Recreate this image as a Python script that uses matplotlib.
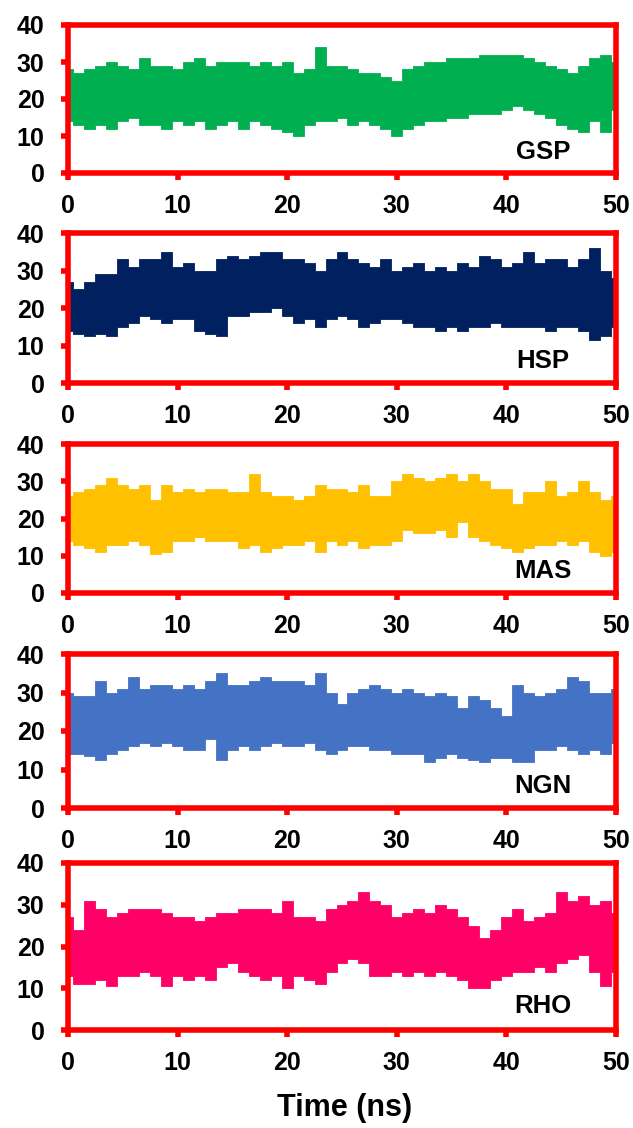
import numpy as np
import matplotlib
matplotlib.use("Agg")
import matplotlib.pyplot as plt

plt.rcParams["font.family"] = ["Liberation Sans", "DejaVu Sans"]
plt.rcParams["font.weight"] = "bold"

# time axis (ns), one reading per ns
time_ns = np.arange(0, 51)

# upper / lower edges of each trace
gsp_hi = [28, 27, 28, 29, 30, 29, 28, 31, 29, 29, 28, 30, 31, 29, 30, 30, 30, 29, 30, 29,
          30, 27, 28, 34, 29, 29, 28, 27, 27, 26, 25, 28, 29, 30, 30, 31, 31, 31, 32, 32,
          32, 32, 31, 30, 29, 28, 27, 29, 31, 32, 30]
gsp_lo = [14, 13, 12, 13, 12, 14, 15, 13, 13, 12, 14, 13, 14, 12, 13, 14, 12, 14, 13, 12,
          11, 10, 13, 14, 14, 15, 13, 14, 13, 12, 10, 12, 13, 14, 14, 15, 15, 16, 16, 16,
          17, 18, 17, 16, 15, 13, 12, 11, 14, 11, 17]

hsp_hi = [27, 25, 27, 29, 29, 33, 31, 33, 33, 35, 31, 32, 30, 30, 33, 34, 33, 34, 35, 35,
          33, 33, 32, 30, 33, 35, 33, 32, 31, 33, 30, 31, 32, 30, 31, 30, 32, 31, 34, 33,
          31, 32, 35, 32, 33, 33, 31, 33, 36, 30, 28]
hsp_lo = [14, 13, 12.5, 13, 12.5, 15, 16, 18, 17, 16, 17, 17, 14, 13, 12.5, 18, 18, 19, 19, 20,
          18, 16, 17, 15, 17, 18, 17, 15, 16, 17, 17, 16, 15, 15, 14, 15, 14, 15, 15, 16,
          15, 15, 15, 15, 14, 15, 15, 14, 11.5, 12.5, 15]

mas_hi = [26, 27, 28, 29, 31, 29, 28, 29, 25, 29, 27, 28, 27, 28, 28, 27, 27, 32, 27, 26,
          26, 25, 26, 29, 28, 28, 27, 29, 26, 26, 30, 32, 31, 30, 31, 32, 30, 32, 30, 28,
          28, 24, 27, 27, 30, 26, 27, 30, 27, 25, 26]
mas_lo = [14, 13, 12, 11, 13, 13, 14, 13, 10.5, 11, 14, 14, 15, 14, 14, 14, 12, 13, 11, 12,
          13, 13, 14, 11, 14, 13, 14, 12, 13, 13, 14, 17, 16, 16, 17, 15, 19, 15, 14, 13,
          12, 11, 12, 13, 13, 14, 13, 14, 11, 10, 11]

ngn_hi = [30, 29, 29, 33, 30, 31, 34, 31, 32, 32, 31, 32, 31, 33, 35, 32, 32, 33, 34, 33,
          33, 33, 32, 35, 30, 27, 30, 31, 32, 31, 30, 31, 30, 29, 30, 29, 26, 29, 28, 26,
          24, 32, 30, 29, 30, 31, 34, 33, 30, 30, 31]
ngn_lo = [14, 14, 13.5, 12.5, 14, 15, 16, 17, 16, 17, 16, 15, 15, 18, 12.5, 15, 16, 15, 16, 17,
          16, 16, 17, 15, 14, 15, 16, 16, 15, 15, 14, 14, 14, 12, 13, 14, 13, 12.5, 12, 13,
          13, 12, 12, 15, 15, 16, 15, 14, 15, 14, 17]

rho_hi = [27, 24, 31, 29, 27, 28, 29, 29, 29, 28, 27, 27, 26, 27, 28, 28, 29, 29, 29, 28,
          31, 27, 27, 26, 29, 30, 31, 33, 31, 30, 27, 28, 29, 28, 30, 29, 27, 25, 22, 24,
          27, 29, 26, 27, 28, 33, 31, 32, 30, 31, 28]
rho_lo = [13, 11, 11, 12, 10.5, 13, 13, 14, 13, 10.5, 13, 12, 13, 12, 15, 16, 14, 13, 12, 13,
          10, 13, 12, 11, 14, 16, 17, 16, 13, 13, 14, 13, 14, 13, 14, 13, 12, 10, 10, 12,
          13, 14, 14, 15, 14, 16, 17, 18, 14, 10.5, 14]

names = ["GSP", "HSP", "MAS", "NGN", "RHO"]
colors = ["#00B050", "#002060", "#FFC000", "#4472C4", "#FF0066"]
highs = [gsp_hi, hsp_hi, mas_hi, ngn_hi, rho_hi]
lows = [gsp_lo, hsp_lo, mas_lo, ngn_lo, rho_lo]

W, H = 633, 1128
fig = plt.figure(figsize=(W / 100, H / 100), dpi=100)

# panel frames in pixels (top, bottom)
frames = [(25, 173), (233, 383), (444, 593), (654, 808), (863, 1030)]
left_px, right_px = 68, 616

for i, (top, bot) in enumerate(frames):
    ax = fig.add_axes([left_px / W, 1 - bot / H, (right_px - left_px) / W, (bot - top) / H])
    ax.fill_between(time_ns, lows[i], highs[i], step="mid", color=colors[i], lw=0.6,
                    edgecolor=colors[i])
    ax.set_xlim(0, 50)
    ax.set_ylim(0, 40)
    ax.set_xticks([0, 10, 20, 30, 40, 50])
    ax.set_yticks([0, 10, 20, 30, 40])
    for sp in ax.spines.values():
        sp.set_color("red")
        sp.set_linewidth(4)
    ax.tick_params(axis="y", labelsize=18, width=4, length=5, pad=12, color="red")
    ax.tick_params(axis="x", labelsize=18, width=4, length=5, pad=10, color="red")
    for lbl in ax.get_xticklabels() + ax.get_yticklabels():
        lbl.set_fontweight("bold")
    ax.text(43.35, 5.8, names[i], fontsize=18.5, fontweight="bold", ha="center", va="center")

fig.text(345 / W, 1 - 1108 / H, "Time (ns)", fontsize=22, fontweight="bold",
         ha="center", va="center")

fig.savefig("out.png", dpi=100)
